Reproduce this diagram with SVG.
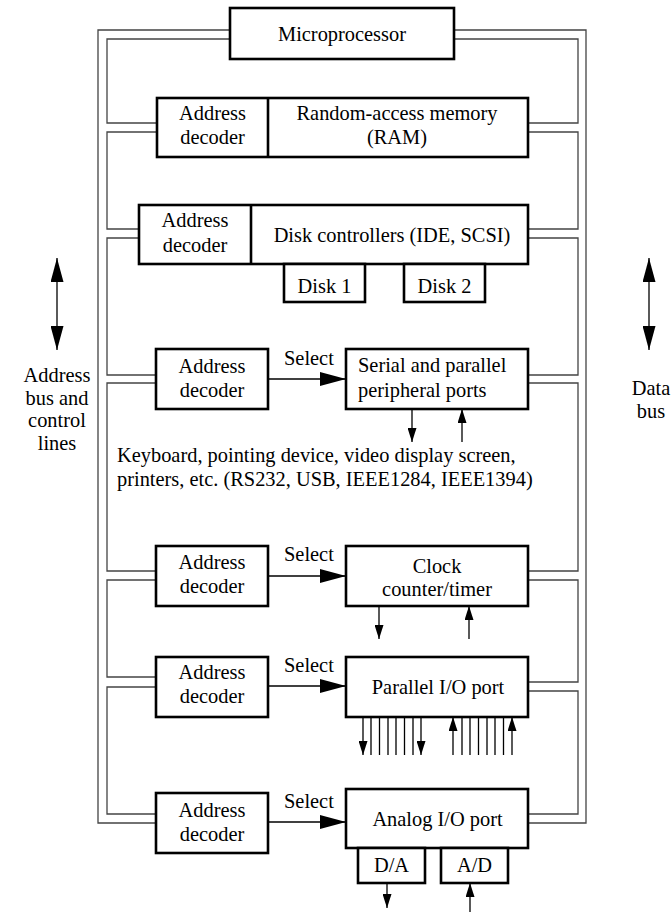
<svg xmlns="http://www.w3.org/2000/svg" width="672" height="915" viewBox="0 0 672 915">
<style>
.box{fill:#fff;stroke:#000;stroke-width:2.6}
.bus{fill:none;stroke:#444;stroke-width:1.3}
.ln{fill:none;stroke:#000;stroke-width:1.3}
text{font-family:"Liberation Serif","Times New Roman",serif;font-size:20.4px;fill:#000}
.c{text-anchor:middle}
</style>
<defs>
<marker id="big" viewBox="0 0 26 14" refX="26" refY="7" markerWidth="26" markerHeight="14" markerUnits="userSpaceOnUse" orient="auto"><path d="M0,0 L26,7 L0,14 Z" fill="#000"/></marker>
<marker id="sm" viewBox="0 0 14 9" refX="14" refY="4.5" markerWidth="14" markerHeight="9" markerUnits="userSpaceOnUse" orient="auto"><path d="M0,0 L14,4.5 L0,9 Z" fill="#000"/></marker>
<marker id="side" viewBox="0 0 24 13" refX="24" refY="6.5" markerWidth="24" markerHeight="13" markerUnits="userSpaceOnUse" orient="auto-start-reverse"><path d="M0,0 L24,6.5 L0,13 Z" fill="#000"/></marker>
</defs>
<g id="connectors">
<path class="bus" d="M230,30 H98 V823 H156"/>
<path class="bus" d="M230,39 H107 V123 H157"/>
<path class="bus" d="M157,132 H107 V229 H139"/>
<path class="bus" d="M139,238 H107 V375 H156"/>
<path class="bus" d="M156,383 H107 V571 H156"/>
<path class="bus" d="M156,580 H107 V677 H156"/>
<path class="bus" d="M156,687 H107 V814 H156"/>
<path class="bus" d="M454,30 H586 V823 H528"/>
<path class="bus" d="M454,39 H578 V123 H528"/>
<path class="bus" d="M528,132 H578 V229 H528"/>
<path class="bus" d="M528,238 H578 V375 H528"/>
<path class="bus" d="M528,383 H578 V571 H528"/>
<path class="bus" d="M528,580 H578 V682 H528"/>
<path class="bus" d="M528,691 H578 V814 H528"/>
<line class="ln" x1="268" y1="379" x2="346" y2="379" marker-end="url(#big)"/>
<line class="ln" x1="268" y1="576" x2="346" y2="576" marker-end="url(#big)"/>
<line class="ln" x1="268" y1="686" x2="346" y2="686" marker-end="url(#big)"/>
<line class="ln" x1="268" y1="822" x2="346" y2="822" marker-end="url(#big)"/>
<line class="ln" x1="412" y1="409" x2="412" y2="442" marker-end="url(#sm)"/>
<line class="ln" x1="462" y1="442" x2="462" y2="409" marker-end="url(#sm)"/>
<line class="ln" x1="379" y1="606" x2="379" y2="639" marker-end="url(#sm)"/>
<line class="ln" x1="469" y1="639" x2="469" y2="606" marker-end="url(#sm)"/>
<line class="ln" x1="363" y1="717" x2="363" y2="755" marker-end="url(#sm)"/>
<path class="ln" d="M371,717 V755 M379.5,717 V755 M388,717 V755 M396,717 V755 M404.5,717 V755 M413,717 V755"/>
<line class="ln" x1="421" y1="717" x2="421" y2="755" marker-end="url(#sm)"/>
<line class="ln" x1="453" y1="755" x2="453" y2="717" marker-end="url(#sm)"/>
<path class="ln" d="M462,717 V755 M470,717 V755 M478.5,717 V755 M487,717 V755 M495,717 V755 M503.5,717 V755"/>
<line class="ln" x1="512" y1="755" x2="512" y2="717" marker-end="url(#sm)"/>
<line class="ln" x1="387" y1="883" x2="387" y2="908" marker-end="url(#sm)"/>
<line class="ln" x1="470" y1="912" x2="470" y2="883" marker-end="url(#sm)"/>
<line class="ln" x1="57" y1="258" x2="57" y2="350" marker-start="url(#side)" marker-end="url(#side)"/>
<line class="ln" x1="649" y1="258" x2="649" y2="350" marker-start="url(#side)" marker-end="url(#side)"/>
</g>
<g id="microprocessor">
<rect class="box" x="230" y="8" width="224" height="51"/>
<text class="c" x="342" y="41">Microprocessor</text>
</g>
<g id="ram">
<rect class="box" x="157" y="98" width="371" height="59"/>
<line class="box" x1="268" y1="98" x2="268" y2="157"/>
<text class="c" x="212.5" y="120">Address</text>
<text class="c" x="212.5" y="144">decoder</text>
<text class="c" x="397" y="120">Random-access memory</text>
<text class="c" x="397" y="144">(RAM)</text>
</g>
<g id="disk-controllers">
<rect class="box" x="139" y="205" width="389" height="59"/>
<line class="box" x1="251" y1="205" x2="251" y2="264"/>
<text class="c" x="195" y="227">Address</text>
<text class="c" x="195" y="252">decoder</text>
<text class="c" x="392" y="242">Disk controllers (IDE, SCSI)</text>
</g>
<g id="disk1">
<rect class="box" x="284" y="264" width="81" height="38"/>
<text class="c" x="324.5" y="293">Disk 1</text>
</g>
<g id="disk2">
<rect class="box" x="404" y="264" width="81" height="38"/>
<text class="c" x="444.5" y="293">Disk 2</text>
</g>
<g id="serial-decoder">
<rect class="box" x="156" y="349" width="112" height="60"/>
<text class="c" x="212" y="373">Address</text>
<text class="c" x="212" y="397">decoder</text>
</g>
<g id="serial-ports">
<rect class="box" x="346" y="349" width="182" height="60"/>
<text x="358" y="372">Serial and parallel</text>
<text x="358" y="397">peripheral ports</text>
</g>
<g id="labels">
<text x="284" y="365">Select</text>
<text x="284" y="561">Select</text>
<text x="284" y="672">Select</text>
<text x="284" y="808">Select</text>
<text x="117" y="462">Keyboard, pointing device, video display screen,</text>
<text x="117" y="486">printers, etc. (RS232, USB, IEEE1284, IEEE1394)</text>
<text class="c" x="57" y="382">Address</text>
<text class="c" x="57" y="405">bus and</text>
<text class="c" x="57" y="427">control</text>
<text class="c" x="57" y="450">lines</text>
<text class="c" x="651" y="395">Data</text>
<text class="c" x="651" y="418">bus</text>
</g>
<g id="clock-decoder">
<rect class="box" x="156" y="546" width="112" height="60"/>
<text class="c" x="212" y="569">Address</text>
<text class="c" x="212" y="593">decoder</text>
</g>
<g id="clock">
<rect class="box" x="346" y="546" width="182" height="60"/>
<text class="c" x="437" y="573">Clock</text>
<text class="c" x="437" y="596">counter/timer</text>
</g>
<g id="parallel-decoder">
<rect class="box" x="156" y="657" width="112" height="60"/>
<text class="c" x="212" y="679">Address</text>
<text class="c" x="212" y="703">decoder</text>
</g>
<g id="parallel-io">
<rect class="box" x="346" y="657" width="182" height="60"/>
<text class="c" x="438" y="694">Parallel I/O port</text>
</g>
<g id="analog-decoder">
<rect class="box" x="156" y="793" width="112" height="60"/>
<text class="c" x="212" y="817">Address</text>
<text class="c" x="212" y="841">decoder</text>
</g>
<g id="analog-io">
<rect class="box" x="346" y="789" width="182" height="59"/>
<text class="c" x="437.5" y="826">Analog I/O port</text>
</g>
<g id="da">
<rect class="box" x="358" y="848" width="67" height="35"/>
<text class="c" x="391.5" y="872">D/A</text>
</g>
<g id="ad">
<rect class="box" x="441" y="848" width="67" height="35"/>
<text class="c" x="474.5" y="872">A/D</text>
</g>
</svg>
